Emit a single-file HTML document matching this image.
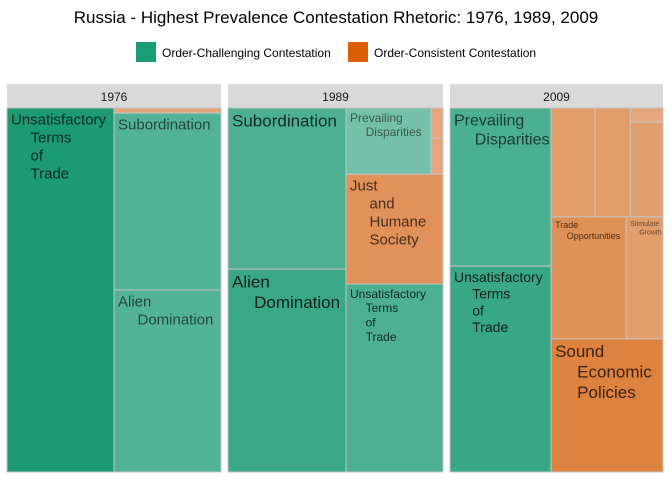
<!DOCTYPE html>
<html><head><meta charset="utf-8"><style>
body{margin:0;background:#fff;}
svg{display:block;font-family:"Liberation Sans",Arial,sans-serif;}
</style></head><body>
<svg id="chart" width="672" height="480">
<text x="336" y="23" text-anchor="middle" font-size="17" fill="#000">Russia - Highest Prevalence Contestation Rhetoric: 1976, 1989, 2009</text>
<g>
<rect x="136" y="42" width="20" height="20" fill="#1b9e77"/>
<text x="162" y="57" font-size="12">Order-Challenging Contestation</text>
<rect x="348" y="42" width="20" height="20" fill="#d95f02"/>
<text x="374" y="57" font-size="12">Order-Consistent Contestation</text>
</g>
<g id="panels"></g>
</svg>
<script>
// Data: years, and per-year tile trees (values are % share of panel area)
const years = ["1976","1989","2009"];
const tiles1976 = {dir:"h",children:[
  {label:"Unsatisfactory Terms of Trade",value:50,fill:"#1b9a73",fs:15,tc:"#102a22"},
  {dir:"v",children:[
    {label:"",value:0.7,fill:"#e6a57c"},
    {label:"Subordination",value:24.3,fill:"#53b396",fs:15,tc:"#24463b"},
    {label:"Alien Domination",value:25,fill:"#53b396",fs:15,tc:"#24463b"}]}]};
const tiles1989 = {dir:"h",children:[
  {dir:"v",children:[
    {label:"Subordination",value:24.3,fill:"#4db092",fs:17,tc:"#102a22"},
    {label:"Alien Domination",value:30.6,fill:"#3aa886",fs:17,tc:"#0e2219"}]},
  {dir:"v",children:[
    {dir:"h",children:[
      {label:"Prevailing Disparities",value:7.2,fill:"#74c0a8",fs:12,tc:"#3c5a50"},
      {dir:"v",children:[
        {label:"",value:0.46,fill:"#e6a57c"},
        {label:"",value:0.55,fill:"#e6a57c"}]}]},
    {label:"Just and Humane Society",value:13.6,fill:"#e0925a",fs:15,tc:"#4a2e18"},
    {label:"Unsatisfactory Terms of Trade",value:23.3,fill:"#4db092",fs:12,tc:"#102a22"}]}]};
const tiles2009 = {dir:"h",children:[
  {dir:"v",children:[
    {label:"Prevailing Disparities",value:20.6,fill:"#4ab091",fs:16,tc:"#1c3a30"},
    {label:"Unsatisfactory Terms of Trade",value:26.8,fill:"#37a785",fs:14,tc:"#0e2219"}]},
  {dir:"v",children:[
    {dir:"h",children:[
      {label:"",value:6.2,fill:"#e29c6a"},
      {label:"",value:4.9,fill:"#e29c6a"},
      {dir:"v",children:[
        {label:"",value:0.6,fill:"#e6a57c"},
        {label:"",value:4.0,fill:"#e29f6e"}]}]},
    {dir:"h",children:[
      {label:"Trade Opportunities",value:11.8,fill:"#e09256",fs:9,tc:"#4a2e18"},
      {label:"Stimulate Growth",value:5.8,fill:"#e29d6b",fs:7,tc:"#6a4a30"}]},
    {label:"Sound Economic Policies",value:19.2,fill:"#de8240",fs:17,tc:"#3a2210"}]}]};
const trees=[tiles1976,tiles1989,tiles2009];

const NS="http://www.w3.org/2000/svg";
const panelX=[7,228,450], panelW=[214,215,213];
const stripY=84, stripH=24, plotY=108, plotH=364;
const root=document.getElementById("panels");
function sum(n){return n.children?n.children.reduce((a,c)=>a+sum(c),0):n.value;}
function mk(tag,attrs){const e=document.createElementNS(NS,tag);for(const k in attrs)e.setAttribute(k,attrs[k]);return e;}
function layout(n,x,y,w,h,g){
  if(!n.children){
    const r=mk("rect",{x:x,y:y,width:w,height:h,fill:n.fill,stroke:"#c4c4c4","stroke-width":1});
    
    
    g.appendChild(r);
    if(n.label){
      const words=n.label.split(" ");
      const t=mk("text",{"font-size":n.fs,fill:n.tc});
      
      
      words.forEach((wd,i)=>{
        const ts=mk("tspan",{x:x+4+(i?n.fs*1.3:0),y:y+3+n.fs*(0.9+i*1.2)});
        ts.textContent=wd;t.appendChild(ts);});
      // special: two-line labels like "Prevailing Disparities"
      g.appendChild(t);
    }
    return;
  }
  const tot=sum(n);let off=0;
  n.children.forEach(c=>{
    const f=sum(c)/tot;
    if(n.dir==="h"){layout(c,x+off,y,w*f,h,g);off+=w*f;}
    else{layout(c,x,y+off,w,h*f,g);off+=h*f;}
  });
}
years.forEach((yr,i)=>{
  const g=mk("g",{});
  
  
  const s=mk("rect",{x:panelX[i],y:stripY,width:panelW[i],height:stripH,fill:"#d9d9d9"});
  
  
  g.appendChild(s);
  const st=mk("text",{x:panelX[i]+panelW[i]/2,y:stripY+17,"text-anchor":"middle","font-size":12,fill:"#1a1a1a"});
  
  
  st.textContent=yr;g.appendChild(st);
  layout(trees[i],panelX[i],plotY,panelW[i],plotH,g);
  root.appendChild(g);
});
</script>
</body></html>
